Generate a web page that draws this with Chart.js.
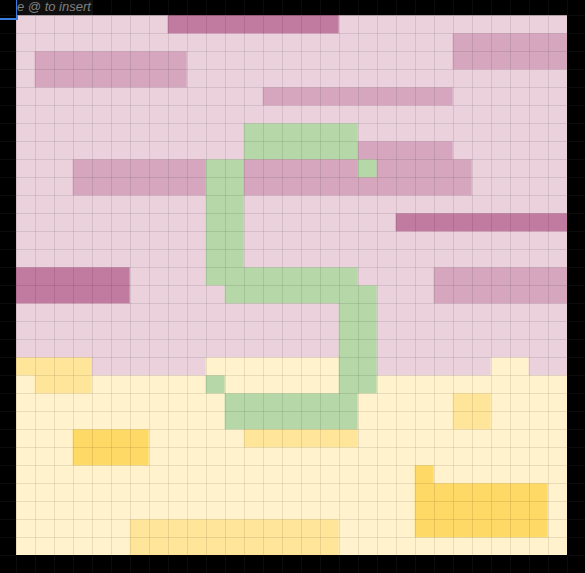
<!DOCTYPE html>
<html>
<head>
<meta charset="utf-8">
<script src="https://cdn.jsdelivr.net/npm/chart.js@4.4.1/dist/chart.umd.min.js"></script>
<style>
  html, body { margin: 0; padding: 0; background: #000; }
  #wrap { position: relative; width: 585px; height: 573px; background: #000; }
  #overlay-box { position: absolute; left: -4px; top: -4px; width: 18px; height: 20px; border: 2px solid #3a7be0; box-sizing: content-box; }
  #overlay-text { position: absolute; left: 17px; top: 0; width: 76px; height: 15px; background: #0f0f0f; color: #808080; font: italic 13px "Liberation Sans", Arial, sans-serif; line-height: 14px; white-space: nowrap; overflow: hidden; }
</style>
</head>
<body>
<div id="wrap">
  <canvas id="c" width="585" height="573"></canvas>
  <div id="overlay-box"></div>
  <div id="overlay-text">e @ to insert</div>
</div>
<script>
// Columns (x categories) and rows of the grid
const columns = Array.from({length: 29}, (_, i) => String(i));
// Cell levels per row (top to bottom):
// '.' pink-1, 'm' pink-2, 'M' pink-3, 'g' green, 'y' yellow-1, 'o' yellow-2, 'Y' yellow-3
const gridRows = [
  "........MMMMMMMMM............",
  ".......................mmmmmm",
  ".mmmmmmmm..............mmmmmm",
  ".mmmmmmmm....................",
  ".............mmmmmmmmmm......",
  ".............................",
  "............gggggg...........",
  "............ggggggmmmmm......",
  "...mmmmmmmggmmmmmmgmmmmm.....",
  "...mmmmmmmggmmmmmmmmmmmm.....",
  "..........gg.................",
  "..........gg........MMMMMMMMM",
  "..........gg.................",
  "..........gg.................",
  "MMMMMM....gggggggg....mmmmmmm",
  "MMMMMM.....gggggggg...mmmmmmm",
  ".................gg..........",
  ".................gg..........",
  ".................gg..........",
  "oooo......yyyyyyygg......yy..",
  "yoooyyyyyygyyyyyyggyyyyyyyyyy",
  "yyyyyyyyyyygggggggyyyyyooyyyy",
  "yyyyyyyyyyygggggggyyyyyooyyyy",
  "yyyYYYYyyyyyooooooyyyyyyyyyyy",
  "yyyYYYYyyyyyyyyyyyyyyyyyyyyyy",
  "yyyyyyyyyyyyyyyyyyyyyYyyyyyyy",
  "yyyyyyyyyyyyyyyyyyyyyYYYYYYYy",
  "yyyyyyyyyyyyyyyyyyyyyYYYYYYYy",
  "yyyyyyoooooooooooyyyyYYYYYYYy",
  "yyyyyyoooooooooooyyyyyyyyyyyy"
];
const levelCodes = ['.', 'm', 'M', 'g', 'y', 'o', 'Y'];

// Styles
const levelColors = {
  '.': '#ead1dc', 'm': '#d5a6bd', 'M': '#c27ba0', 'g': '#b6d7a8',
  'y': '#fff2cc', 'o': '#ffe599', 'Y': '#ffd966'
};

const datasets = gridRows.map((row, r) => ({
  label: 'row ' + r,
  data: columns.map(() => [r, r + 1]),
  backgroundColor: columns.map((_, c) => levelColors[row[c]]),
  borderWidth: 0,
  grouped: false,
  barPercentage: 1,
  categoryPercentage: 1
}));

new Chart(document.getElementById('c'), {
  type: 'bar',
  data: { labels: columns, datasets },
  options: {
    responsive: false,
    animation: false,
    events: [],
    layout: { padding: 0 },
    plugins: { legend: { display: false }, tooltip: { enabled: false } },
    scales: {
      x: {
        type: 'category', position: 'bottom', offset: true,
        ticks: { display: false },
        border: { display: false },
        grid: { offset: true, z: 1, color: 'rgba(0,0,0,0.09)', tickColor: '#0b0b0b', tickLength: 18, lineWidth: 1 }
      },
      x2: {
        type: 'category', position: 'top', offset: true, labels: columns,
        ticks: { display: false },
        border: { display: false },
        grid: { offset: true, drawOnChartArea: false, tickColor: '#0b0b0b', tickLength: 15 }
      },
      y: {
        type: 'linear', position: 'left', min: 0, max: 30, reverse: true,
        ticks: { display: false, stepSize: 1, maxTicksLimit: 100 },
        border: { display: false },
        grid: { z: 1, color: 'rgba(0,0,0,0.09)', tickColor: '#0b0b0b', tickLength: 16, lineWidth: 1 }
      },
      y2: {
        type: 'linear', position: 'right', min: 0, max: 30, reverse: true,
        ticks: { display: false, stepSize: 1, maxTicksLimit: 100 },
        border: { display: false },
        grid: { drawOnChartArea: false, tickColor: '#0b0b0b', tickLength: 18 }
      }
    }
  }
});
</script>
</body>
</html>
